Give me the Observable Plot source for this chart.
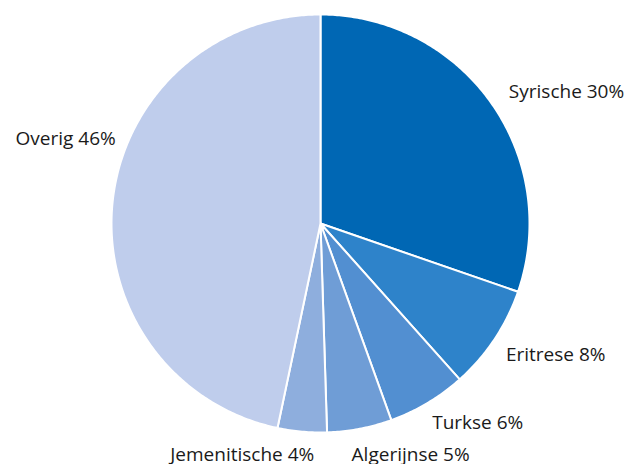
<!DOCTYPE html>
<html>
<head>
<meta charset="utf-8">
<script src="https://cdn.jsdelivr.net/npm/d3@7"></script>
<script src="https://cdn.jsdelivr.net/npm/@observablehq/plot@0.6"></script>
<style>
  html, body { margin: 0; padding: 0; background: #fff; }
  #chart svg { display: block; }
</style>
</head>
<body>
<div id="chart"></div>
<script>
// Data
const names = ["Syrische", "Eritrese", "Turkse", "Algerijnse", "Jemenitische", "Overig"];
const shares = [30.3, 8.1, 6.1, 5.0, 3.8, 46.7];
const labelPct = [30, 8, 6, 5, 4, 46];
const colors = ["#0067b4", "#2e83ca", "#528fd1", "#6f9dd6", "#8eaedd", "#bfcdec"];

// Layout (pixel-like units, y up)
const W = 625, H = 464;
const CX = 320, CY = 223, R = 209, LR = 230;

const pie = d3.pie().sort(null).value(d => d.value);
const arcs = pie(names.map((n, i) => ({name: n, value: shares[i], pct: labelPct[i]})));

// polygon points for each slice
const pts = [];
for (const a of arcs) {
  const n = Math.max(2, Math.ceil((a.endAngle - a.startAngle) / 0.01));
  pts.push({name: a.data.name, x: 0, y: 0});
  for (let k = 0; k <= n; k++) {
    const t = a.startAngle + (a.endAngle - a.startAngle) * k / n;
    pts.push({name: a.data.name, x: R * Math.sin(t), y: R * Math.cos(t)});
  }
}

const labels = arcs.map(a => {
  const m = (a.startAngle + a.endAngle) / 2;
  return {
    name: a.data.name,
    text: `${a.data.name} ${a.data.pct}%`,
    x: LR * Math.sin(m),
    y: LR * Math.cos(m),
    anchor: Math.sin(m) >= 0 ? "start" : "end"
  };
});

// per-label nudges (dx, dy in px)
const nudges = {
  "Syrische": [1, 2],
  "Eritrese": [-6, 4],
  "Turkse": [-6, 2],
  "Algerijnse": [-12, 5],
  "Jemenitische": [14, 2],
  "Overig": [24, -61]
};

const textMarks = labels.map(l => Plot.text([l], {
  x: "x", y: "y", text: "text",
  textAnchor: l.anchor,
  dx: nudges[l.name][0], dy: nudges[l.name][1],
  fontSize: 19,
  fill: "#1a1a1a",
  fontFamily: "Open Sans"
}));

const chart = Plot.plot({
  width: W, height: H,
  margin: 0,
  x: {domain: [-CX, W - CX], axis: null},
  y: {domain: [-(H - CY), CY], axis: null},
  color: {domain: names, range: colors, type: "ordinal"},
  style: {background: "#fff", overflow: "visible"},
  marks: [
    Plot.line(pts, {x: "x", y: "y", z: "name", fill: "name", stroke: "#fff", strokeWidth: 2, curve: "linear-closed"}),
    ...textMarks
  ]
});
document.getElementById("chart").appendChild(chart);
</script>
</body>
</html>
